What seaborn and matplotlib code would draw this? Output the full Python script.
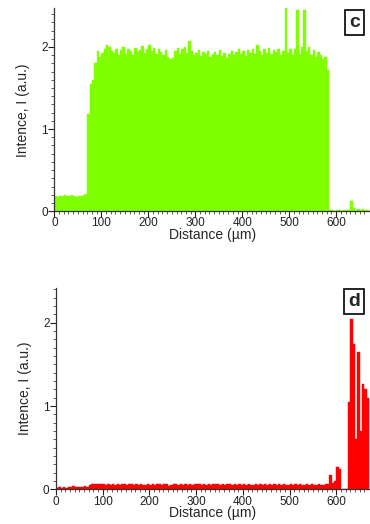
import seaborn as sns
import matplotlib.pyplot as plt
import pandas as pd
import numpy as np

# Distance positions (µm), one bin every 5 µm
distance = np.arange(0, 670, 5)

# Panel c: green trace
intensity_c = [
    0.18, 0.17, 0.18, 0.19, 0.20, 0.19, 0.18, 0.20, 0.19, 0.17,   # 0-45
    0.18, 0.19, 0.20, 0.21, 1.18, 1.55, 1.60, 1.80, 1.95, 1.88,   # 50-95
    1.93, 1.97, 2.02, 2.00, 1.95, 1.93, 1.98, 1.90, 1.96, 2.00,   # 100-145
    1.92, 1.97, 1.95, 1.90, 1.99, 1.94, 1.96, 2.01, 1.93, 1.98,   # 150-195
    2.02, 1.95, 1.99, 1.92, 1.97, 1.94, 1.90, 1.96, 1.88, 1.85,   # 200-245
    1.87, 1.95, 1.99, 1.92, 1.97, 2.00, 1.93, 2.07, 1.95, 1.90,   # 250-295
    1.93, 1.96, 1.89, 1.94, 1.91, 1.95, 1.88, 1.92, 1.94, 1.90,   # 300-345
    1.96, 1.89, 1.93, 1.87, 1.92, 1.95, 1.90, 1.94, 1.97, 1.91,   # 350-395
    1.95, 1.89, 1.96, 1.93, 1.98, 1.92, 2.03, 1.95, 1.90, 1.97,   # 400-445
    1.93, 1.99, 1.91, 1.96, 1.94, 1.98, 1.90, 1.95, 2.48, 1.93,   # 450-495
    1.97, 1.90, 1.98, 2.45, 1.92, 2.00, 2.45, 1.95, 2.00, 1.90,   # 500-545
    1.96, 1.88, 1.94, 1.90, 1.85, 1.88, 1.72, 0.01, 0.01, 0.00,   # 550-595
    0.01, 0.01, 0.00, 0.01, 0.01, 0.01, 0.12, 0.04, 0.02, 0.03,   # 600-645
    0.02, 0.03, 0.02, 0.02,                                       # 650-665
]

# Panel d: red trace
intensity_d = [
    0.02, 0.03, 0.02, 0.03, 0.02, 0.03, 0.03, 0.04, 0.03, 0.03,   # 0-45
    0.03, 0.03, 0.04, 0.03, 0.05, 0.06, 0.07, 0.06, 0.06, 0.06,   # 50-95
    0.06, 0.05, 0.06, 0.05, 0.06, 0.05, 0.06, 0.05, 0.06, 0.06,   # 100-145
    0.05, 0.06, 0.07, 0.05, 0.06, 0.05, 0.06, 0.05, 0.05, 0.06,   # 150-195
    0.05, 0.06, 0.05, 0.06, 0.06, 0.05, 0.07, 0.06, 0.04, 0.05,   # 200-245
    0.06, 0.07, 0.05, 0.06, 0.05, 0.06, 0.05, 0.06, 0.05, 0.06,   # 250-295
    0.07, 0.06, 0.05, 0.06, 0.05, 0.06, 0.05, 0.06, 0.07, 0.06,   # 300-345
    0.05, 0.06, 0.05, 0.07, 0.06, 0.05, 0.06, 0.05, 0.06, 0.05,   # 350-395
    0.06, 0.05, 0.06, 0.05, 0.05, 0.06, 0.05, 0.06, 0.05, 0.06,   # 400-445
    0.05, 0.06, 0.05, 0.06, 0.05, 0.07, 0.05, 0.06, 0.05, 0.05,   # 450-495
    0.06, 0.05, 0.06, 0.05, 0.06, 0.05, 0.05, 0.06, 0.05, 0.06,   # 500-545
    0.05, 0.05, 0.06, 0.05, 0.05, 0.06, 0.06, 0.17, 0.08, 0.10,   # 550-595
    0.27, 0.25, 0.00, 0.00, 0.00, 1.05, 2.05, 1.75, 0.60, 1.65,   # 600-645
    0.70, 1.27, 1.20, 1.10,                                       # 650-665
]

sns.set_style("ticks")
plt.rcParams['font.family'] = ['Liberation Sans', 'DejaVu Sans']

fig = plt.figure(figsize=(3.70, 5.24), dpi=100)
ax_c = fig.add_axes([0.147, 0.597, 0.853, 0.387])
ax_d = fig.add_axes([0.151, 0.066, 0.849, 0.385])

panels = [
    (ax_c, intensity_c, '#80ff00', 'c', 2.47),
    (ax_d, intensity_d, '#ff0000', 'd', 2.42),
]

for ax, vals, color, tag, ytop in panels:
    df = pd.DataFrame({'Distance': distance, 'Intensity': vals})
    sns.histplot(data=df, x='Distance', weights='Intensity', binwidth=5,
                 binrange=(0, 670), color=color, alpha=1, edgecolor=color,
                 linewidth=0.3, ax=ax)
    ax.set_xlim(0, 672)
    ax.set_ylim(0, ytop)
    ax.set_xticks([0, 100, 200, 300, 400, 500, 600])
    ax.set_xticks(np.arange(0, 670, 10), minor=True)
    ax.set_yticks([0, 1, 2])
    ax.set_yticks(np.arange(0, 2.45, 0.1), minor=True)
    ax.tick_params(which='major', length=4, width=0.8, labelsize=8.5,
                   colors='#222222', pad=0.5)
    ax.tick_params(which='minor', length=2.5, width=0.6, colors='#444444')
    sns.despine(ax=ax)
    for s in ['left', 'bottom']:
        ax.spines[s].set_color('#333333')
        ax.spines[s].set_linewidth(0.9)
    ax.set_xlabel('Distance (µm)', fontsize=10, labelpad=-1)
    ax.set_ylabel('Intence, I (a.u.)', fontsize=10, labelpad=8)
    ax.text(0.95, 0.93, tag, transform=ax.transAxes, ha='center', va='center',
            fontsize=14, fontweight='bold',
            bbox=dict(boxstyle='square,pad=0.2', fc='white', ec='black', lw=1.2))

fig.savefig('out.png', dpi=100, facecolor='white')
